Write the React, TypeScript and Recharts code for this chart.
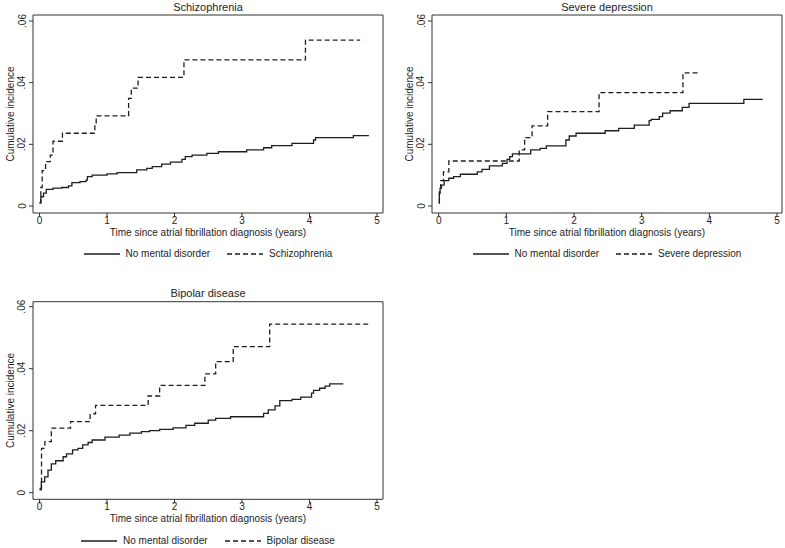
import React from 'react';
import { LineChart, Line, XAxis, YAxis, Legend, Label } from 'recharts';

// ---------- shared axis data ----------
const xTicks = [0, 1, 2, 3, 4, 5];
const yTicks = [0, 0.02, 0.04, 0.06];
const xTitle = 'Time since atrial fibrillation diagnosis (years)';
const yTitle = 'Cumulative incidence';
const refName = 'No mental disorder';

// ---------- Schizophrenia panel ----------
const schizTitle = 'Schizophrenia';
const schizRefT = [0, 0.02, 0.06, 0.1, 0.2, 0.33, 0.43, 0.48, 0.6, 0.69, 0.71, 0.78, 1.0, 1.15, 1.44, 1.59, 1.67, 1.81, 1.94, 2.11, 2.16, 2.26, 2.48, 2.65, 3.07, 3.32, 3.44, 3.74, 4.06, 4.09, 4.65, 4.88];
const schizRefV = [0.001, 0.003, 0.0042, 0.0054, 0.0058, 0.006, 0.0065, 0.0076, 0.0079, 0.0084, 0.0095, 0.01, 0.0104, 0.0108, 0.0117, 0.0122, 0.0128, 0.0136, 0.0142, 0.0151, 0.016, 0.0165, 0.0171, 0.0176, 0.0182, 0.0189, 0.0196, 0.0203, 0.0214, 0.0222, 0.0228, 0.0228];
const schizT = [0, 0.02, 0.04, 0.09, 0.16, 0.2, 0.34, 0.82, 0.84, 1.32, 1.36, 1.46, 2.14, 3.94, 4.75];
const schizV = [0.001, 0.006, 0.0115, 0.0144, 0.0165, 0.021, 0.0236, 0.0263, 0.0292, 0.0349, 0.0382, 0.0417, 0.0474, 0.0538, 0.0538];

// ---------- Severe depression panel ----------
const deprTitle = 'Severe depression';
const deprRefT = [0, 0.01, 0.02, 0.04, 0.08, 0.15, 0.22, 0.32, 0.57, 0.64, 0.75, 0.94, 1.01, 1.05, 1.09, 1.36, 1.5, 1.59, 1.88, 1.93, 2.03, 2.46, 2.66, 2.89, 3.11, 3.14, 3.26, 3.31, 3.42, 3.6, 3.7, 4.51, 4.79];
const deprRefV = [0.001, 0.0041, 0.0058, 0.0068, 0.0082, 0.009, 0.0095, 0.0103, 0.0111, 0.0119, 0.013, 0.0138, 0.0151, 0.016, 0.0169, 0.0182, 0.0187, 0.0195, 0.0214, 0.0227, 0.0236, 0.0244, 0.0252, 0.0262, 0.0277, 0.0281, 0.029, 0.0301, 0.0309, 0.032, 0.0333, 0.0346, 0.0346];
const deprT = [0, 0.01, 0.03, 0.07, 0.15, 1.19, 1.27, 1.38, 1.61, 2.37, 3.61, 3.83];
const deprV = [0.001, 0.0046, 0.0082, 0.0111, 0.0146, 0.0182, 0.0222, 0.026, 0.0306, 0.0368, 0.0432, 0.0432];

// ---------- Bipolar disease panel ----------
const bipTitle = 'Bipolar disease';
const bipRefT = [0, 0.027, 0.077, 0.126, 0.175, 0.24, 0.35, 0.4, 0.49, 0.57, 0.64, 0.72, 0.78, 0.97, 1.18, 1.34, 1.51, 1.63, 1.78, 1.98, 2.17, 2.3, 2.5, 2.61, 2.83, 3.32, 3.39, 3.49, 3.56, 3.74, 3.87, 4.03, 4.06, 4.15, 4.23, 4.3, 4.5];
const bipRefV = [0.0009, 0.0035, 0.0051, 0.0073, 0.0093, 0.0103, 0.0116, 0.0125, 0.0138, 0.0143, 0.0154, 0.0162, 0.017, 0.0179, 0.0186, 0.0192, 0.0197, 0.02, 0.0204, 0.0209, 0.0217, 0.0224, 0.0234, 0.024, 0.0245, 0.0256, 0.0267, 0.028, 0.0297, 0.0301, 0.0308, 0.0321, 0.033, 0.0337, 0.0344, 0.0351, 0.0351];
const bipT = [0, 0.03, 0.08, 0.175, 0.46, 0.75, 0.83, 1.61, 1.78, 2.45, 2.61, 2.87, 3.41, 4.91];
const bipV = [0.0014, 0.0143, 0.0165, 0.0208, 0.0229, 0.0254, 0.0282, 0.0312, 0.0346, 0.0383, 0.0423, 0.0471, 0.0544, 0.0544];

const INK = '#1e1e1e';
const AXIS = '#333333';
const FONT = '"Liberation Sans", Arial, Helvetica, sans-serif';

const toPoints = (t: number[], v: number[]) => t.map((x, i) => ({ t: x, v: v[i] }));
const fmtY = (v: number) => (v === 0 ? '0' : String(v).replace(/^0/, ''));

const YTick = (props: any) => {
  const { x, y, payload } = props;
  return (
    <text x={x} y={y} transform={`rotate(-90 ${x} ${y})`} textAnchor="middle" fontSize={10} fill={INK}>
      {fmtY(payload.value)}
    </text>
  );
};

// Y-axis title, plus the panel title and the top/right sides of the plot frame
const makeFrame = (title: string, plotWidth: number) => (props: any) => {
  const vb = props.viewBox || {};
  const axisX = vb.x + vb.width;
  const cx = axisX - 19.5;
  const cy = vb.y + vb.height / 2;
  const top = vb.y;
  const bottom = vb.y + vb.height;
  const right = axisX + plotWidth;
  return (
    <g>
      <text x={cx} y={cy} transform={`rotate(-90 ${cx} ${cy})`} textAnchor="middle" fontSize={10} fill={INK}>
        {yTitle}
      </text>
      <text x={axisX + plotWidth / 2} y={top - 4.5} textAnchor="middle" fontSize={11} fill={INK}>
        {title}
      </text>
      <line x1={axisX} y1={top} x2={right} y2={top} stroke={AXIS} strokeWidth={1} />
      <line x1={right} y1={top} x2={right} y2={bottom} stroke={AXIS} strokeWidth={1} />
    </g>
  );
};

const LegendContent = (props: any) => {
  const items = [...(props.payload || [])].sort((a: any, b: any) => (a.value === refName ? -1 : b.value === refName ? 1 : 0));
  return (
    <div style={{ display: 'flex', justifyContent: 'center', alignItems: 'center', height: 14, lineHeight: '14px', fontSize: 10, color: INK, fontFamily: FONT }}>
      {items.map((it: any, i: number) => (
        <div key={i} style={{ display: 'flex', alignItems: 'center', marginLeft: i === 0 ? 0 : 17 }}>
          <svg width={36} height={4} style={{ display: 'block' }}>
            <line x1={0} y1={2} x2={36} y2={2} stroke={INK} strokeWidth={1.3} strokeDasharray={it.payload && it.payload.strokeDasharray} />
          </svg>
          <span style={{ marginLeft: 6 }}>{it.value}</span>
        </div>
      ))}
    </div>
  );
};

type Box = {
  left: number; top: number; width: number; height: number;
  margin: { top: number; right: number; bottom: number; left: number };
  yAxisWidth: number;
  xPad: { left: number; right: number };
  yPad: { top: number; bottom: number };
  legendTop: number;
};

function Panel(p: { title: string; name: string; refT: number[]; refV: number[]; caseT: number[]; caseV: number[]; box: Box }) {
  const { title, name, refT, refV, caseT, caseV, box } = p;
  const { left, top, width, height, margin, yAxisWidth, xPad, yPad, legendTop } = box;
  const plotLeft = margin.left + yAxisWidth;
  const plotWidth = width - plotLeft - margin.right;
  return (
    <div style={{ position: 'absolute', left, top, width, height }}>
      <LineChart width={width} height={height} margin={margin}>
        <XAxis dataKey="t" type="number" domain={[0, 5]} ticks={xTicks} interval={0} padding={xPad} height={35}
          tickSize={4} tickMargin={0} tick={{ fontSize: 10, fill: INK }} axisLine={{ stroke: AXIS }} tickLine={{ stroke: AXIS }}>
          <Label value={xTitle} position="insideBottom" offset={12} fontSize={10} fill={INK} />
        </XAxis>
        <YAxis type="number" domain={[0, 0.06]} ticks={yTicks} interval={0} padding={yPad} width={yAxisWidth}
          tickSize={4} tickMargin={3.5} tick={<YTick />} axisLine={{ stroke: AXIS }} tickLine={{ stroke: AXIS }}>
          <Label content={makeFrame(title, plotWidth)} />
        </YAxis>
        <Legend verticalAlign="middle" align="center" layout="horizontal"
          wrapperStyle={{ top: legendTop, left: plotLeft, width: plotWidth, height: 14 }} content={<LegendContent />} />
        <Line data={toPoints(refT, refV)} dataKey="v" name={refName} type="stepAfter" stroke={INK} strokeWidth={1.3}
          dot={false} activeDot={false} isAnimationActive={false} />
        <Line data={toPoints(caseT, caseV)} dataKey="v" name={name} type="stepAfter" stroke={INK} strokeWidth={1.3}
          strokeDasharray="5 3" dot={false} activeDot={false} isAnimationActive={false} />
      </LineChart>
    </div>
  );
}

const box1: Box = { left: 0, top: 0, width: 390, height: 270, margin: { top: 15, right: 7, bottom: 22, left: 0 }, yAxisWidth: 33, xPad: { left: 6.5, right: 6 }, yPad: { top: 6, bottom: 7 }, legendTop: 247 };
const box2: Box = { left: 390, top: 0, width: 395, height: 270, margin: { top: 15, right: 3, bottom: 22, left: 0 }, yAxisWidth: 42, xPad: { left: 6.7, right: 5 }, yPad: { top: 6, bottom: 7 }, legendTop: 247 };
const box3: Box = { left: 0, top: 270, width: 390, height: 278, margin: { top: 31.7, right: 7, bottom: 13.7, left: 0 }, yAxisWidth: 33, xPad: { left: 6.5, right: 6 }, yPad: { top: 5, bottom: 6.6 }, legendTop: 263.7 };

export default function App() {
  return (
    <div style={{ position: 'absolute', left: 0, top: 0, width: 785, height: 548, background: '#fff', fontFamily: FONT }}>
      <Panel title={schizTitle} name={schizTitle} refT={schizRefT} refV={schizRefV} caseT={schizT} caseV={schizV} box={box1} />
      <Panel title={deprTitle} name={deprTitle} refT={deprRefT} refV={deprRefV} caseT={deprT} caseV={deprV} box={box2} />
      <Panel title={bipTitle} name={bipTitle} refT={bipRefT} refV={bipRefV} caseT={bipT} caseV={bipV} box={box3} />
    </div>
  );
}
